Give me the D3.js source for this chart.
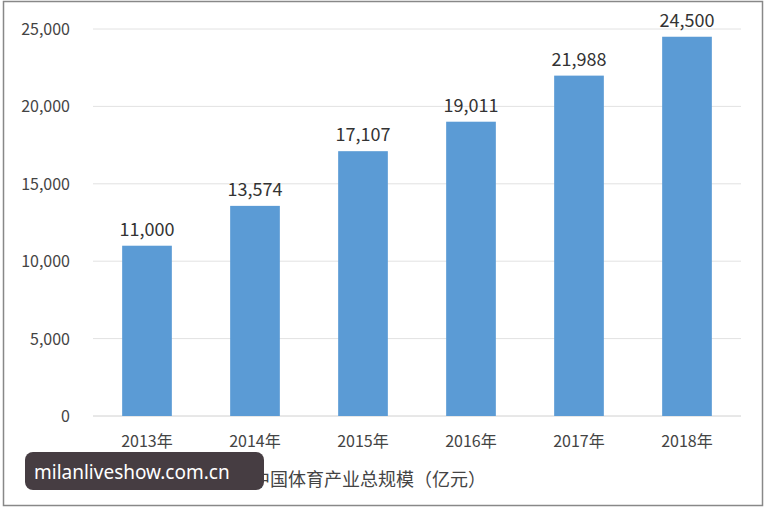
<!DOCTYPE html>
<html><head><meta charset="utf-8">
<script src="https://cdn.jsdelivr.net/npm/d3@7"></script>
<style>body{margin:0;background:#fff}</style>
</head><body>
<svg id="chart" width="766" height="514"></svg>
<script>
const years = ["2013年", "2014年", "2015年", "2016年", "2017年", "2018年"];
const values = [11000, 13574, 17107, 19011, 21988, 24500];
const yTicks = [0, 5000, 10000, 15000, 20000, 25000];

const svg = d3.select("#chart");
const font = "'Noto Sans CJK SC', 'Noto Sans', sans-serif";

// frame
svg.append("rect").attr("x", 3.5).attr("y", 1.5).attr("width", 759).attr("height", 504)
  .attr("fill", "none").attr("stroke", "#888").attr("stroke-width", 1.5);

const x = d3.scaleBand().domain(years).range([93, 741]).paddingInner(0.54).paddingOuter(0.27);
const y = d3.scaleLinear().domain([0, 25000]).range([416, 29]);

// gridlines
svg.append("g").selectAll("line").data(yTicks).join("line")
  .attr("x1", 93).attr("x2", 741)
  .attr("y1", d => y(d)).attr("y2", d => y(d))
  .attr("stroke", d => d === 0 ? "#d0d0d0" : "#e2e2e2").attr("stroke-width", 1);

// y labels
svg.append("g").selectAll("text").data(yTicks).join("text")
  .attr("x", 70).attr("y", d => y(d) + 6).attr("text-anchor", "end")
  .attr("font-family", font).attr("font-size", 16).attr("fill", "#444")
  .text(d => d3.format(",")(d));

// bars
svg.append("g").selectAll("rect").data(values).join("rect")
  .attr("x", (d, i) => x(years[i])).attr("width", x.bandwidth())
  .attr("y", d => y(d)).attr("height", d => y(0) - y(d))
  .attr("fill", "#5b9bd5");

// value labels
svg.append("g").selectAll("text").data(values).join("text")
  .attr("x", (d, i) => x(years[i]) + x.bandwidth() / 2).attr("y", d => y(d) - 10)
  .attr("text-anchor", "middle").attr("font-family", font).attr("font-size", 18).attr("fill", "#333")
  .text(d => d3.format(",")(d));

// x labels
svg.append("g").selectAll("text").data(years).join("text")
  .attr("x", d => x(d) + x.bandwidth() / 2).attr("y", 447)
  .attr("text-anchor", "middle").attr("font-family", font).attr("font-size", 16).attr("fill", "#444")
  .text(d => d);

// legend
svg.append("rect").attr("x", 236).attr("y", 474).attr("width", 9).attr("height", 9).attr("fill", "#5b9bd5");
svg.append("text").attr("x", 252).attr("y", 486).attr("font-family", font).attr("font-size", 18)
  .attr("fill", "#444").text("中国体育产业总规模（亿元）");

// watermark
svg.append("rect").attr("x", 25).attr("y", 452).attr("width", 239).attr("height", 38).attr("rx", 8)
  .attr("fill", "#463d42");
svg.append("text").attr("x", 34).attr("y", 479).attr("font-family", "'Noto Sans', sans-serif")
  .attr("font-size", 19).attr("fill", "#fff").text("milanliveshow.com.cn");
</script>
</body></html>
